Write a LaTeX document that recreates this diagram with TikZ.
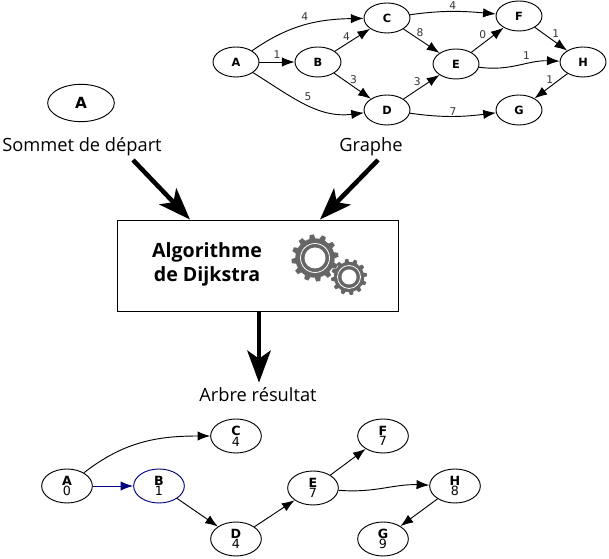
\documentclass[tikz,border=0pt]{standalone}
\usepackage{fontspec}
\setmainfont{Open Sans}
\newfontfamily\graphfont{DejaVu Sans}
\usetikzlibrary{arrows.meta,shapes,positioning,calc}
\definecolor{gearcolor}{HTML}{666666}
\definecolor{navyline}{HTML}{000080}
\tikzset{
    gnode/.style={
        ellipse,
        draw,
        line width=0.7pt,
        inner sep=0pt,
        minimum width=34.5pt,
        minimum height=22.5pt,
        font=\graphfont\fontsize{8.5}{8}\selectfont\bfseries
    },
    rnode/.style={
        ellipse,
        draw,
        line width=0.7pt,
        inner sep=0pt,
        align=center,
        minimum width=38pt,
        minimum height=25.5pt,
        font=\graphfont\fontsize{9.5}{8}\selectfont
    },
    gedge/.style={-{Latex[length=9.5pt,width=7pt]}, line width=0.7pt},
    elabel/.style={font=\graphfont\fontsize{8}{8}\selectfont, text=black!80, inner sep=0pt},
    bigarrow/.style={-{Stealth[length=24pt,width=17.5pt,inset=6pt]}, line width=3.4pt},
    caption/.style={font=\fontsize{13.7}{16}\selectfont, inner sep=0pt}
}
% gear: center, outer radius, ring radius, hole radius
\newcommand{\gear}[4]{
    \foreach \a in {0,30,...,330}
        \fill[gearcolor, rotate around={\a+8:(#1)}] ($(#1)+(-#2*0.13,#2*0.8)$) -- ($(#1)+(-#2*0.09,#2)$) -- ($(#1)+(#2*0.09,#2)$) -- ($(#1)+(#2*0.13,#2*0.8)$) -- cycle;
    \fill[gearcolor] (#1) circle ({#2*0.84});
    \draw[white, line width=0.6pt] (#1) circle (#3);
    \fill[white] (#1) circle (#4);
}
\begin{document}
\begin{tikzpicture}[x=0.75pt, y=0.75pt]
    \useasboundingbox (0,0) rectangle (609,559);
    % input graph
    \node (a) [gnode] at (236,497) {A};
    \node (b) [gnode] at (318,497) {B};
    \node (c) [gnode] at (387,541) {C};
    \node (d) [gnode] at (387,449) {D};
    \node (e) [gnode] at (456,495) {E};
    \node (f) [gnode] at (519,543) {F};
    \node (h) [gnode] at (583,497) {H};
    \node (g) [gnode] at (519,449) {G};

    \draw [gedge] (a) to[out=35,in=181] node[elabel,pos=.5,above=3pt] {4} (c);
    \draw [gedge] (a) -- node[elabel,above=2pt,pos=.5] {1} (b);
    \draw [gedge] (a) to[out=-32,in=187] node[elabel,pos=.52,above=3pt] {5} (d);
    \draw [gedge] (b) -- node[elabel,pos=.45,above left=0.5pt] {4} (c);
    \draw [gedge] (b) -- node[elabel,pos=.42,above right=0pt] {3} (d);
    \draw [gedge] (c) -- node[elabel,pos=.35,above right=0pt] {8} (e);
    \draw [gedge] (d) -- node[elabel,pos=.5,above left=0.5pt] {3} (e);
    \draw [gedge] (c) to[out=8,in=175] node[elabel,pos=.5,above=1pt] {4} (f);
    \draw [gedge] (d) to[out=-8,in=187] node[elabel,pos=.5,above=0.5pt] {7} (g);
    \draw [gedge] (e) -- node[elabel,pos=.5,above left=1pt] {0} (f);
    \draw [gedge] (e) to[out=-8,in=178] node[elabel,pos=.6,above=3pt] {1} (h);
    \draw [gedge] (f) -- node[elabel,pos=.5,above right=1pt] {1} (h);
    \draw [gedge] (h) -- node[elabel,pos=.42,above left=0pt] {1} (g);

    % inputs and algorithm
    \node (start) [ellipse, draw, line width=0.7pt, inner sep=0pt, minimum width=50pt, minimum height=28pt,
        font=\graphfont\fontsize{11.5}{12}\selectfont\bfseries] at (81,456) {A};
    \node (depart) [caption] at (82,412) {Sommet de départ};
    \node (graphe) [caption] at (371,412) {Graphe};
    \node (algo) [draw, line width=0.7pt, minimum width=210.75pt, minimum height=68.25pt] at (257.5,293.5) {};
    \node (algotext) [align=center, font=\fontsize{14.7}{18}\selectfont\bfseries] at (207,295) {Algorithme\\de Dijkstra};
    \node (arbre) [caption] at (258,164) {Arbre résultat};
    \coordinate (departout) at (133,399);
    \coordinate (grapheout) at (378,399);

    \draw [bigarrow] (departout) -- ($(algo.north)+(-67.5,0)$);
    \draw [bigarrow] (grapheout) -- ($(algo.north)+(62.5,0)$);
    \draw [bigarrow] ($(algo.south)+(1.5,0)$) -- ($(arbre.north)+(1,5)$);

    \gear{315,301}{23.5}{14.5}{10.5}
    \gear{349,282}{18}{11.5}{7.5}

    % result tree
    \node (ra) [rnode] at (67,73) {\textbf{A}\\0};
    \node (rb) [rnode, draw=navyline] at (159,73) {\textbf{B}\\1};
    \node (rc) [rnode] at (236,123) {\textbf{C}\\4};
    \node (rd) [rnode] at (236,20) {\textbf{D}\\4};
    \node (re) [rnode] at (313,71) {\textbf{E}\\7};
    \node (rf) [rnode] at (383,123) {\textbf{F}\\7};
    \node (rh) [rnode] at (455,73) {\textbf{H}\\8};
    \node (rg) [rnode] at (383,20) {\textbf{G}\\9};

    \draw [gedge] (ra) to[out=38,in=180] (rc);
    \draw [gedge, navyline] (ra) -- (rb);
    \draw [gedge] (rb) -- (rd);
    \draw [gedge] (rd) -- (re);
    \draw [gedge] (re) -- (rf);
    \draw [gedge] (re) to[out=-5,in=178] (rh);
    \draw [gedge] (rh) -- (rg);
\end{tikzpicture}
\end{document}
